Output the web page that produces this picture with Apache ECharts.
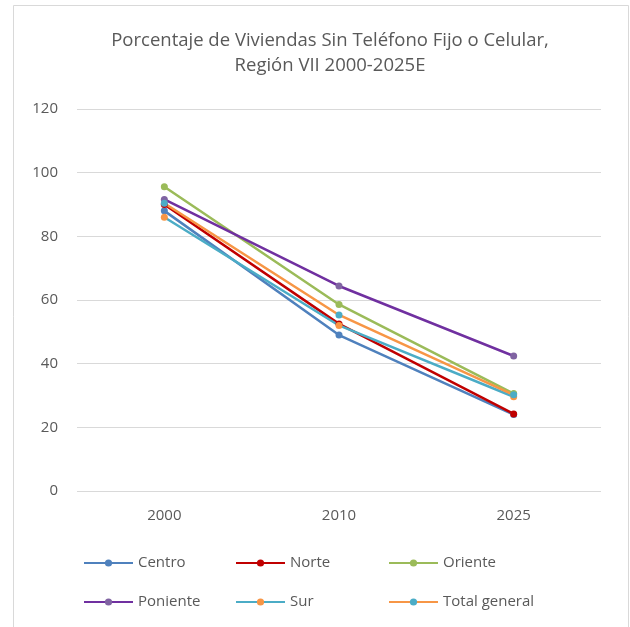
<!DOCTYPE html>
<html><head><meta charset="utf-8">
<script src="https://cdn.jsdelivr.net/npm/echarts@6/dist/echarts.min.js"></script>
<style>html,body{margin:0;padding:0;background:#fff}#c{width:630px;height:627px}</style>
</head><body><div id="c"></div>
<script>
const years = ['2000', '2010', '2025'];
const centro = [88.0, 49.0, 24.0];
const norte = [90.0, 52.5, 24.2];
const oriente = [95.6, 58.6, 30.6];
const poniente = [91.6, 64.4, 42.4];
const sur = [86.0, 52.0, 29.6];
const totalGeneral = [90.4, 55.3, 30.2];
const yTicks = [0, 20, 40, 60, 80, 100, 120];

const seriesDefs = [
  {name: 'Centro', data: centro, line: '#4F81BD', mark: '#4F81BD'},
  {name: 'Norte', data: norte, line: '#C00000', mark: '#C00000'},
  {name: 'Oriente', data: oriente, line: '#9BBB59', mark: '#9BBB59'},
  {name: 'Poniente', data: poniente, line: '#7030A0', mark: '#8064A2'},
  {name: 'Sur', data: sur, line: '#4BACC6', mark: '#F79646'},
  {name: 'Total general', data: totalGeneral, line: '#F79646', mark: '#4BACC6'}
];
const legendPos = [[83,553],[235,553],[388,553],[83,592],[235,592],[388,592]];

const chart = echarts.init(document.getElementById('c'), null, {renderer: 'canvas'});
chart.setOption({
  animation: false,
  backgroundColor: '#fff',
  graphic: [{type: 'rect', shape: {x: 13.5, y: 5.5, width: 615, height: 640}, style: {fill: 'none', stroke: '#D9D9D9', lineWidth: 1}}],
  title: {
    text: 'Porcentaje de Viviendas Sin Teléfono Fijo o Celular,\nRegión VII 2000-2025E',
    left: 325, top: 23, textAlign: 'center',
    textStyle: {fontFamily: 'Open Sans', fontSize: 18.5, fontWeight: 'normal', color: '#595959', lineHeight: 25}
  },
  legend: seriesDefs.map((s, i) => ({
    data: [s.name], left: legendPos[i][0], top: legendPos[i][1], padding: 0,
    itemWidth: 49, itemHeight: 9, itemGap: 5,
    textStyle: {fontFamily: 'Open Sans', fontSize: 15, color: '#595959', lineHeight: 20}
  })),
  grid: {left: 77, right: 29, top: 109, bottom: 136, containLabel: false},
  xAxis: {
    type: 'category', data: years, boundaryGap: true,
    axisLine: {show: false}, axisTick: {show: false},
    axisLabel: {margin: 17, fontFamily: 'Open Sans', fontSize: 15, color: '#595959'}
  },
  yAxis: {
    type: 'value', min: yTicks[0], max: yTicks[yTicks.length-1], interval: 20,
    axisLine: {show: false}, axisTick: {show: false},
    axisLabel: {margin: 19, fontFamily: 'Open Sans', fontSize: 15, color: '#595959'},
    splitLine: {lineStyle: {color: '#D9D9D9', width: 1}}
  },
  series: seriesDefs.map(s => ({
    name: s.name, type: 'line', data: s.data,
    symbol: 'circle', symbolSize: 7,
    lineStyle: {color: s.line, width: 2.5},
    itemStyle: {color: s.mark}
  }))
});
</script></body></html>
